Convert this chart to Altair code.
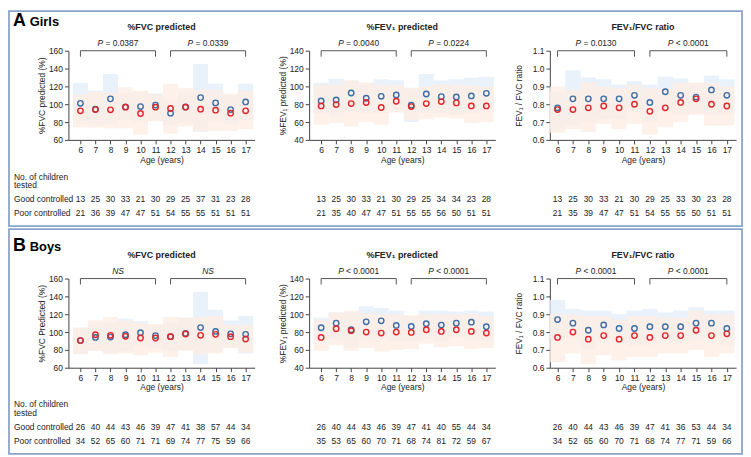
import altair as alt
import pandas as pd

ages = list(range(6, 18))

# ---------------- Girls ----------------
g_fvc_good = [101, 94.4, 106, 97, 97.4, 99, 90, 97, 107.4, 101.5, 94, 102.6]
g_fvc_poor = [92.6, 94, 93.7, 96.7, 89.6, 96.7, 95.2, 96.7, 94.4, 93.3, 90, 92.6]
g_fvc_good_hi = [124, 115, 134, 112, 114, 112, 104, 113, 145, 123, 110, 123]
g_fvc_good_lo = [78, 76, 78, 82, 80, 82, 76, 80, 69, 80, 78, 82]
g_fvc_poor_hi = [111, 114, 113, 119, 115, 111, 123, 118, 116, 116, 112, 115]
g_fvc_poor_lo = [74, 74, 73, 73, 66, 81, 67, 75, 70, 70, 70, 72]
g_fvc_n_good = [13, 25, 30, 33, 21, 30, 29, 25, 37, 31, 23, 28]
g_fvc_n_poor = [21, 36, 39, 47, 47, 51, 54, 55, 55, 51, 51, 51]

g_fev_good = [83.7, 84.8, 92.6, 86.7, 88.9, 90.4, 78.9, 91.5, 88.5, 88.1, 89.3, 92.2]
g_fev_poor = [78.1, 79.6, 80.7, 81.9, 76.3, 83.3, 77.4, 80.7, 83, 81.5, 78.1, 78.1]
g_fev_good_hi = [104, 108.5, 106, 104, 108, 107, 97.4, 114, 106.7, 108, 109.6, 110.7]
g_fev_good_lo = [70, 66, 72, 70, 70, 74, 60, 70, 70, 68, 70, 74]
g_fev_poor_hi = [102, 102, 107, 104, 102, 101.5, 98.5, 100, 102, 102, 101, 100]
g_fev_poor_lo = [57, 59, 55, 60, 57, 70.7, 62, 63, 65, 64, 59, 60]
g_fev_n_good = [13, 25, 30, 33, 21, 30, 29, 25, 34, 34, 23, 28]
g_fev_n_poor = [21, 35, 40, 47, 47, 51, 55, 55, 56, 50, 51, 51]

g_rat_good = [0.78, 0.83, 0.83, 0.83, 0.83, 0.85, 0.81, 0.87, 0.85, 0.84, 0.88, 0.85]
g_rat_poor = [0.77, 0.77, 0.78, 0.79, 0.78, 0.80, 0.76, 0.78, 0.81, 0.83, 0.80, 0.79]
g_rat_good_hi = [0.87, 0.99, 0.95, 0.94, 0.91, 0.93, 0.91, 0.955, 0.945, 0.92, 0.96, 0.94]
g_rat_good_lo = [0.66, 0.68, 0.70, 0.72, 0.72, 0.76, 0.70, 0.76, 0.74, 0.75, 0.74, 0.74]
g_rat_poor_hi = [0.90, 0.88, 0.92, 0.90, 0.89, 0.91, 0.89, 0.89, 0.92, 0.92, 0.92, 0.90]
g_rat_poor_lo = [0.64, 0.66, 0.645, 0.69, 0.66, 0.69, 0.63, 0.67, 0.70, 0.74, 0.68, 0.68]
g_rat_n_good = [13, 25, 30, 33, 21, 30, 29, 25, 33, 30, 23, 28]
g_rat_n_poor = [21, 35, 39, 47, 47, 51, 54, 55, 55, 50, 51, 51]

# ---------------- Boys ----------------
b_fvc_good = [90.4, 94, 94.4, 97, 99.3, 96, 94.8, 98.5, 105, 100.7, 98, 97.4]
b_fvc_poor = [90.4, 97, 96.3, 95.2, 93.3, 93.3, 94.8, 97.8, 96.3, 97.4, 94.8, 92.2]
b_fvc_good_hi = [105, 111, 111, 115, 112, 108, 110, 116, 145, 125, 113, 118]
b_fvc_good_lo = [76, 79, 77, 79, 84, 82, 79, 80, 64, 78, 82, 76]
b_fvc_poor_hi = [105, 113, 117, 113, 110, 109, 117, 116, 117, 118, 108, 108]
b_fvc_poor_lo = [75, 79, 75, 76, 74, 77, 72, 79, 75, 76, 82, 77]
b_fvc_n_good = [26, 40, 44, 43, 46, 39, 47, 41, 38, 57, 44, 34]
b_fvc_n_poor = [34, 52, 65, 60, 71, 71, 69, 74, 77, 75, 59, 66]

b_fev_good = [84.8, 90, 82.6, 91.5, 92.6, 87.4, 86.3, 89.3, 87.8, 90, 91.1, 86]
b_fev_poor = [74, 83.7, 81.5, 80, 78.9, 80, 79.6, 82.6, 80.7, 82.6, 80.7, 78.9]
b_fev_good_hi = [96, 102, 102, 109, 107, 104, 98, 104, 104, 103, 104, 103]
b_fev_good_lo = [72, 72, 62, 72, 72, 70, 70, 72, 70, 74, 72, 70]
b_fev_poor_hi = [94, 102, 104, 101, 100, 100, 99, 100, 100, 100, 100, 98]
b_fev_poor_lo = [59, 65, 59, 62, 58, 60, 61, 67, 63, 64, 61, 62]
b_fev_n_good = [26, 40, 44, 43, 46, 39, 47, 41, 40, 55, 44, 34]
b_fev_n_poor = [35, 53, 65, 60, 70, 71, 68, 74, 81, 72, 59, 67]

b_rat_good = [0.87, 0.85, 0.81, 0.84, 0.82, 0.82, 0.83, 0.83, 0.83, 0.85, 0.85, 0.82]
b_rat_poor = [0.77, 0.80, 0.76, 0.78, 0.76, 0.78, 0.77, 0.78, 0.78, 0.81, 0.78, 0.79]
b_rat_good_hi = [0.98, 0.93, 0.92, 0.92, 0.90, 0.92, 0.93, 0.91, 0.92, 0.94, 0.92, 0.92]
b_rat_good_lo = [0.76, 0.77, 0.70, 0.76, 0.74, 0.72, 0.73, 0.75, 0.74, 0.76, 0.78, 0.72]
b_rat_poor_hi = [0.90, 0.90, 0.89, 0.89, 0.87, 0.89, 0.89, 0.88, 0.88, 0.92, 0.90, 0.90]
b_rat_poor_lo = [0.63, 0.68, 0.62, 0.67, 0.64, 0.66, 0.66, 0.68, 0.68, 0.70, 0.66, 0.68]
b_rat_n_good = [26, 40, 44, 43, 46, 39, 47, 41, 36, 53, 44, 34]
b_rat_n_poor = [34, 52, 65, 60, 70, 71, 68, 74, 77, 71, 59, 66]

fvc_ticks = [60, 80, 100, 120, 140, 160]
fev_ticks = [40, 60, 80, 100, 120, 140]
rat_ticks = [0.6, 0.7, 0.8, 0.9, 1.0, 1.1]

row_labels = ["No. of children", "tested", "Good controlled", "Poor controlled"]

FONT = "Liberation Sans"
W, H = 188, 90
BLUE_PT, RED_PT = "#3b6ea6", "#e0262c"
BLUE_BAND, ORANGE_BAND = "#e4eefa", "#fdeee3"
BORDER = "#8aa3cc"
TXT = "#222222"


def panel(good, poor, ghi, glo, phi, plo, ngood, npoor, ydom, yticks, yfmt,
          ytitle, title, pvals, xdom, ytitle_pad, header=None, border=None,
          row_lab=False):
    recs = []
    for grp, v, hi, lo, n in (("Good", good, ghi, glo, ngood),
                              ("Poor", poor, phi, plo, npoor)):
        for i, a in enumerate(ages):
            recs.append({"age": a, "grp": grp, "val": v[i], "hi": hi[i],
                         "lo": lo[i], "n": n[i]})
    df = pd.DataFrame(recs)

    xscale = alt.Scale(domain=xdom, nice=False, zero=False)
    xaxis = alt.Axis(values=ages, title="Age (years)", labelFlush=False,
                     titlePadding=1, labelPadding=2, tickSize=4)
    yscale = alt.Scale(domain=ydom, nice=False, zero=False)
    yaxis = alt.Axis(values=yticks, format=yfmt, title=ytitle,
                     titlePadding=ytitle_pad, labelPadding=2, tickSize=4,
                     labelFlush=False)

    def X(f):
        return alt.X(f, type="quantitative", scale=xscale, axis=xaxis)

    def Y(f):
        return alt.Y(f, type="quantitative", scale=yscale, axis=yaxis)

    base = alt.Chart(df)
    bands = base.transform_calculate(
        x0="datum.age - 0.5", x1="datum.age + 0.5"
    ).mark_rect(fillOpacity=0.8, strokeWidth=0).encode(
        x=X("x0"), x2="x1:Q", y=Y("lo"), y2="hi:Q",
        fill=alt.Fill("grp:N", scale=alt.Scale(domain=["Good", "Poor"],
                      range=[BLUE_BAND, ORANGE_BAND]), legend=None),
    )
    pts = base.mark_point(shape="circle", filled=False, size=30,
                          strokeWidth=1.4, opacity=1).encode(
        x=X("age"), y=Y("val"),
        stroke=alt.Stroke("grp:N", scale=alt.Scale(domain=["Good", "Poor"],
                          range=[BLUE_PT, RED_PT]), legend=None),
    )
    n_good = base.transform_filter("datum.grp == 'Good'").mark_text(
        fontSize=8.5, font=FONT, color=TXT, baseline="middle").encode(
        x=X("age"), y=alt.value(150), text="n:Q")
    n_poor = base.transform_filter("datum.grp == 'Poor'").mark_text(
        fontSize=8.5, font=FONT, color=TXT, baseline="middle").encode(
        x=X("age"), y=alt.value(164), text="n:Q")

    br = pd.DataFrame({"a": [6, 12], "b": [11, 17], "m": [8.5, 14.5],
                       "it": [p[0] for p in pvals],
                       "rest": [p[1] for p in pvals]})
    ends = pd.DataFrame({"e": [6, 11, 12, 17]})
    hline = alt.Chart(br).mark_rule(color="#555555", strokeWidth=1).encode(
        x=X("a"), x2="b:Q", y=alt.value(0))
    vline = alt.Chart(ends).mark_rule(color="#555555", strokeWidth=1).encode(
        x=X("e"), y=alt.value(0), y2=alt.value(6))
    layers = [bands, pts, hline, vline, n_good, n_poor]
    if pvals[0][1] == "":
        layers.append(alt.Chart(br).mark_text(
            fontSize=8.5, font=FONT, fontStyle="italic", color=TXT,
            align="center", baseline="middle").encode(
            x=X("m"), y=alt.value(-8), text="it:N"))
    else:
        layers.append(alt.Chart(br).mark_text(
            fontSize=8.5, font=FONT, fontStyle="italic", color=TXT,
            align="left", baseline="middle", dx=-20.7).encode(
            x=X("m"), y=alt.value(-8), text="it:N"))
        layers.append(alt.Chart(br).mark_text(
            fontSize=8.5, font=FONT, color=TXT,
            align="left", baseline="middle", dx=-12.7).encode(
            x=X("m"), y=alt.value(-8), text="rest:N"))

    layers.append(alt.Chart(pd.DataFrame({"t": [title]})).mark_text(
        fontSize=9, font=FONT, fontWeight="bold", color=TXT,
        align="center", baseline="middle").encode(
        x=alt.value(W / 2), y=alt.value(-24), text="t:N"))

    if border is not None:
        layers.append(alt.Chart(pd.DataFrame({"k": [0]})).mark_rect(
            fillOpacity=0, stroke=BORDER, strokeWidth=1.8).encode(
            x=alt.value(-60), x2=alt.value(680),
            y=alt.value(border[0]), y2=alt.value(border[1])))
    if header is not None:
        letter, word, base_y = header
        layers.append(alt.Chart(pd.DataFrame({"t": [letter]})).mark_text(
            fontSize=18, font=FONT, fontWeight="bold", color="#000000",
            align="left", baseline="alphabetic").encode(
            x=alt.value(-56), y=alt.value(base_y), text="t:N"))
        layers.append(alt.Chart(pd.DataFrame({"t": [word]})).mark_text(
            fontSize=13, font=FONT, fontWeight="bold", color="#000000",
            align="left", baseline="alphabetic").encode(
            x=alt.value(-39), y=alt.value(base_y), text="t:N"))
    if row_lab:
        ys = [127, 136, 150, 164]
        for lab, yy in zip(row_labels, ys):
            layers.append(alt.Chart(pd.DataFrame({"t": [lab]})).mark_text(
                fontSize=8.5, font=FONT, color=TXT, align="left",
                baseline="middle").encode(
                x=alt.value(-55), y=alt.value(yy), text="t:N"))

    return alt.layer(*layers).properties(width=W, height=H)


XD = [5.2, 17.6]
XR = [5.5, 17.6]

p1 = panel(g_fvc_good, g_fvc_poor, g_fvc_good_hi, g_fvc_good_lo, g_fvc_poor_hi,
           g_fvc_poor_lo, g_fvc_n_good, g_fvc_n_poor, [60, 160], fvc_ticks, "d",
           "%FVC  predicted (%)", "%FVC predicted",
           [("P", "= 0.0387"), ("P", "= 0.0339")], XD, 2,
           header=("A", "Girls", -25), border=(-40, 177), row_lab=True)
p2 = panel(g_fev_good, g_fev_poor, g_fev_good_hi, g_fev_good_lo, g_fev_poor_hi,
           g_fev_poor_lo, g_fev_n_good, g_fev_n_poor, [40, 140], fev_ticks, "d",
           "%FEV\u2081 predicted (%)", "%FEV\u2081 predicted",
           [("P", "= 0.0040"), ("P", "= 0.0224")], XD, 2)
p3 = panel(g_rat_good, g_rat_poor, g_rat_good_hi, g_rat_good_lo, g_rat_poor_hi,
           g_rat_poor_lo, g_rat_n_good, g_rat_n_poor, [0.6, 1.1], rat_ticks, ".1f",
           "FEV\u2081 / FVC ratio", "FEV\u2081/FVC ratio",
           [("P", "= 0.0130"), ("P", "< 0.0001")], XR, 9)
p4 = panel(b_fvc_good, b_fvc_poor, b_fvc_good_hi, b_fvc_good_lo, b_fvc_poor_hi,
           b_fvc_poor_lo, b_fvc_n_good, b_fvc_n_poor, [60, 160], fvc_ticks, "d",
           "%FVC Predicted (%)", "%FVC predicted",
           [("NS", ""), ("NS", "")], XD, 2,
           header=("B", "Boys", -28), border=(-50, 177), row_lab=True)
p5 = panel(b_fev_good, b_fev_poor, b_fev_good_hi, b_fev_good_lo, b_fev_poor_hi,
           b_fev_poor_lo, b_fev_n_good, b_fev_n_poor, [40, 140], fev_ticks, "d",
           "%FEV\u2081 predicted (%)", "%FEV\u2081 predicted",
           [("P", "< 0.0001"), ("P", "< 0.0001")], XD, 2)
p6 = panel(b_rat_good, b_rat_poor, b_rat_good_hi, b_rat_good_lo, b_rat_poor_hi,
           b_rat_poor_lo, b_rat_n_good, b_rat_n_poor, [0.6, 1.1], rat_ticks, ".1f",
           "FEV\u2081 / FVC ratio", "FEV\u2081/FVC ratio",
           [("P", "< 0.0001"), ("P", "< 0.0001")], XR, 9)

chart = alt.concat(
    p1, p2, p3, p4, p5, p6, columns=3,
    spacing={"row": 140, "column": 55}, bounds="flush",
).properties(padding=0, background="white").configure_view(
    stroke=None
).configure_axis(
    labelFont=FONT, titleFont=FONT, labelFontSize=8.5, titleFontSize=8.5,
    labelColor=TXT, titleColor=TXT, titleFontWeight="normal",
    domainColor="#444444", tickColor="#444444", grid=False,
)

chart.save("out.html", embed_options={"renderer": "svg", "actions": False})
